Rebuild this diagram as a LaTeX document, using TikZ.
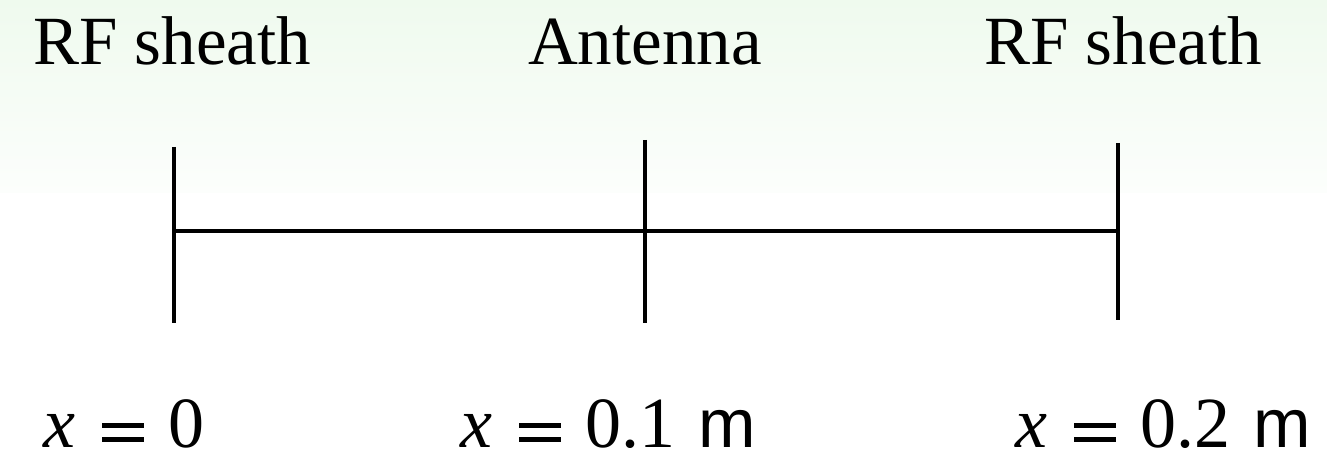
\documentclass[tikz,border=0pt]{standalone}
\usepackage{fontspec}
\setmainfont{Liberation Serif}
\newfontfamily\unitfont{Liberation Sans}
\tikzset{
  bar/.style={line width=4.6pt, black},
  toplabel/.style={anchor=base, inner sep=0pt, font=\fontsize{69}{80}\selectfont},
  poslabel/.style={anchor=base west, inner sep=0pt, font=\fontsize{72}{84}\selectfont},
}
% x followed by a wide, heavy equals sign
\newcommand{\xeq}{\makebox[59pt][l]{\textit{x}}%
  \makebox[42pt][l]{\rule[5pt]{42pt}{5.5pt}\hspace{-42pt}\rule[19pt]{42pt}{5.5pt}}%
  \hspace{24.3pt}}
\newcommand{\unitm}{\hspace{23pt}{\unitfont\fontsize{69}{80}\selectfont m}}
\begin{document}
\begin{tikzpicture}[x=1pt,y=-1pt]
\useasboundingbox (0,0) rectangle (1327,462);
\shade[top color={rgb,255:red,239;green,250;blue,238}, bottom color={rgb,255:red,252;green,254;blue,252}] (0,0) rectangle (1327,193);
% ticks
\coordinate (t1) at (174,147);
\coordinate (b1) at (174,323);
\coordinate (t2) at (645,140);
\coordinate (b2) at (645,323);
\coordinate (t3) at (1118,143);
\coordinate (b3) at (1118,320);
\coordinate (m1) at (174,231);
\coordinate (m2) at (645,231);
\coordinate (m3) at (1118,231);
\draw[bar] (t1) -- (b1);
\draw[bar] (t2) -- (b2);
\draw[bar] (t3) -- (b3);
\draw[bar] (m1) -- (m2) -- (m3);
% labels
\node[toplabel] (l1) at (172,65) {RF sheath};
\node[toplabel] (l2) at (645,65) {Antenna};
\node[toplabel] (l3) at (1123,65) {RF sheath};
\node[poslabel] (p1) at (43,447) {\xeq 0};
\node[poslabel] (p2) at (460,447) {\xeq 0.1\unitm};
\node[poslabel] (p3) at (1015,447) {\xeq 0.2\unitm};
\end{tikzpicture}
\end{document}
